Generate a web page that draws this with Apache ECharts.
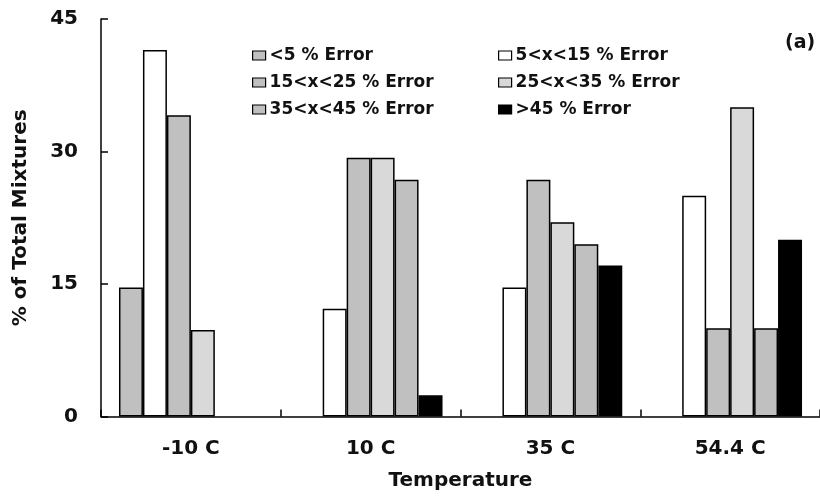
<!DOCTYPE html>
<html>
<head>
<meta charset="utf-8">
<script src="https://cdn.jsdelivr.net/npm/echarts@6/dist/echarts.min.js"></script>
<style>
  html, body { margin: 0; padding: 0; background: #fff; }
  #chart { width: 820px; height: 498px; }
</style>
</head>
<body>
<div id="chart"></div>
<script>
// Temperature groups on the x axis
const categories = ['-10 C', '10 C', '35 C', '54.4 C'];

// Share of mixtures (%) in each error band, per temperature
const seriesNames = ['<5 % Error', '5<x<15 % Error', '15<x<25 % Error',
                     '25<x<35 % Error', '35<x<45 % Error', '>45 % Error'];
const errLt5    = [14.6, 0,    0,    0];
const err5to15  = [41.5, 12.2, 14.6, 25.0];
const err15to25 = [34.1, 29.3, 26.8, 10.0];
const err25to35 = [9.8,  29.3, 22.0, 35.0];
const err35to45 = [0,    26.8, 19.5, 10.0];
const errGt45   = [0,    2.4,  17.1, 20.0];

const yTicks = [0, 15, 30, 45];

const seriesData = [errLt5, err5to15, err15to25, err25to35, err35to45, errGt45];
const fills = ['#c0c0c0', '#ffffff', '#c0c0c0', '#d9d9d9', '#c0c0c0', '#000000'];

const FONT = 'DejaVu Sans';

const chart = echarts.init(document.getElementById('chart'), null, { renderer: 'canvas' });

const legendCommon = {
  orient: 'vertical',
  top: 47,
  padding: 0,
  itemWidth: 13,
  itemHeight: 9,
  itemGap: 10,
  icon: 'rect',
  selectedMode: false,
  textStyle: { fontFamily: FONT, fontWeight: 'bold', fontSize: 17, color: '#111', padding: [0, 0, 0, -1] },
  itemStyle: { borderColor: '#000', borderWidth: 1.2 }
};

chart.setOption({
  animation: false,
  backgroundColor: '#fff',
  grid: { left: 101, right: -7, top: 19, bottom: 81.5, containLabel: false },
  legend: [
    Object.assign({}, legendCommon, { left: 252, data: [seriesNames[0], seriesNames[2], seriesNames[4]] }),
    Object.assign({}, legendCommon, { left: 498, data: [seriesNames[1], seriesNames[3], seriesNames[5]] })
  ],
  graphic: [{
    type: 'text',
    left: 785,
    top: 34,
    style: { text: '(a)', fontFamily: FONT, fontWeight: 'bold', fontSize: 19, fill: '#111' }
  }],
  xAxis: {
    type: 'category',
    data: categories,
    name: 'Temperature',
    nameLocation: 'middle',
    nameGap: 54,
    nameTextStyle: { fontFamily: FONT, fontWeight: 'bold', fontSize: 20, color: '#111' },
    axisLine: { lineStyle: { color: '#000', width: 1.5 } },
    axisTick: { show: true, inside: true, length: 7, lineStyle: { color: '#000', width: 1.5 } },
    axisLabel: { fontFamily: FONT, fontWeight: 'bold', fontSize: 20, color: '#111', margin: 22 }
  },
  yAxis: {
    type: 'value',
    min: yTicks[0],
    max: yTicks[yTicks.length - 1],
    interval: 15,
    name: '% of Total Mixtures',
    nameLocation: 'middle',
    nameGap: 70,
    nameTextStyle: { fontFamily: FONT, fontWeight: 'bold', fontSize: 20, color: '#111' },
    axisLine: { show: true, lineStyle: { color: '#000', width: 1.5 } },
    axisTick: { show: true, inside: true, length: 7, lineStyle: { color: '#000', width: 1.5 } },
    splitLine: { show: false },
    axisLabel: { fontFamily: FONT, fontWeight: 'bold', fontSize: 20, color: '#111', margin: 23 }
  },
  // Empty bands (0 %) are left blank rather than drawn as a flat outline
  series: seriesNames.map((name, i) => ({
    name: name,
    type: 'bar',
    data: seriesData[i].map(v => (v === 0 ? null : v)),
    barGap: '0%',
    barCategoryGap: '20%',
    itemStyle: { color: fills[i], borderColor: '#000', borderWidth: 1.5 }
  }))
});
</script>
</body>
</html>
